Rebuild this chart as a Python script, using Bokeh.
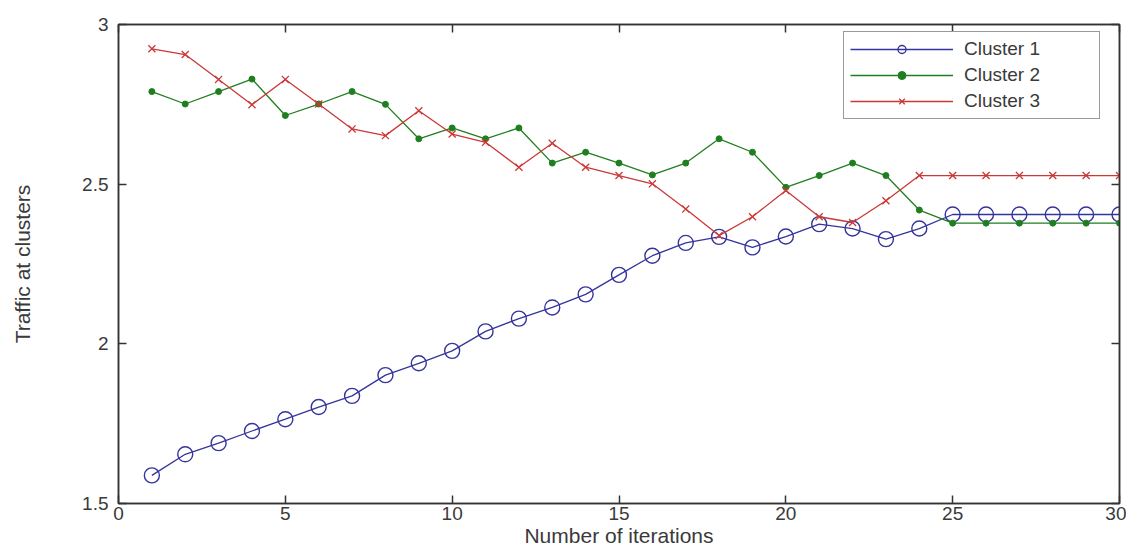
from bokeh.plotting import figure
from bokeh.models import Range1d, LinearAxis, FixedTicker, CustomJSTickFormatter, Legend
from bokeh.embed import file_html
from bokeh.resources import INLINE

iterations = list(range(1, 31))
cluster1 = [1.588, 1.654, 1.689, 1.727, 1.764, 1.802, 1.837, 1.902, 1.939, 1.978,
            2.039, 2.079, 2.114, 2.155, 2.216, 2.276, 2.316, 2.335, 2.302, 2.336,
            2.375, 2.361, 2.328, 2.361, 2.405, 2.405, 2.405, 2.405, 2.405, 2.405]
cluster2 = [2.790, 2.751, 2.790, 2.829, 2.715, 2.751, 2.790, 2.750, 2.642, 2.676,
            2.642, 2.676, 2.566, 2.600, 2.566, 2.529, 2.566, 2.642, 2.600, 2.490,
            2.527, 2.566, 2.527, 2.419, 2.378, 2.378, 2.378, 2.378, 2.378, 2.378]
cluster3 = [2.924, 2.906, 2.828, 2.749, 2.828, 2.751, 2.673, 2.652, 2.730, 2.657,
            2.631, 2.553, 2.628, 2.553, 2.527, 2.501, 2.422, 2.339, 2.398, 2.480,
            2.398, 2.380, 2.448, 2.527, 2.527, 2.527, 2.527, 2.527, 2.527, 2.527]
labels = ["Cluster 1", "Cluster 2", "Cluster 3"]
x_ticks = [0, 5, 10, 15, 20, 25, 30]
y_ticks = [1.5, 2, 2.5, 3]
y_tick_labels = {1.5: "1.5", 2: "2", 2.5: "2.5", 3: "3"}

FONT = "Liberation Sans"
TEXT = "#3a3a3a"
AX = "#333333"
BLUE = "#34349c"
GREEN = "#1f7f1f"
RED = "#cc3838"

p = figure(width=1126, height=549, output_backend="svg", toolbar_location=None,
           x_range=Range1d(0, 30), y_range=Range1d(1.5, 3),
           min_border_left=118, min_border_right=7, min_border_top=24, min_border_bottom=30)
p.background_fill_color = "white"
p.border_fill_color = "white"
p.outline_line_color = AX
p.outline_line_width = 1.5
p.xgrid.visible = False
p.ygrid.visible = False

l1 = p.line(iterations, cluster1, line_color=BLUE, line_width=1.3)
m1 = p.scatter(iterations, cluster1, marker="circle", size=15, fill_color=None,
               line_color=BLUE, line_width=1.4)
l2 = p.line(iterations, cluster2, line_color=GREEN, line_width=1.3)
m2 = p.scatter(iterations, cluster2, marker="circle", size=6, fill_color=GREEN,
               line_color=GREEN)
l3 = p.line(iterations, cluster3, line_color=RED, line_width=1.3)
m3 = p.scatter(iterations, cluster3, marker="x", size=10, line_color=RED, line_width=1.3)

def style_axis(ax):
    ax.axis_line_color = AX
    ax.axis_line_width = 1.5
    ax.major_tick_in = 8
    ax.major_tick_out = 0
    ax.major_tick_line_color = AX
    ax.major_tick_line_width = 1.5
    ax.minor_tick_line_color = None
    ax.major_label_text_font = FONT
    ax.major_label_text_font_size = "19px"
    ax.major_label_text_color = TEXT
    ax.axis_label_text_font = FONT
    ax.axis_label_text_font_style = "normal"
    ax.axis_label_text_color = TEXT

xa = p.xaxis[0]
style_axis(xa)
xa.ticker = FixedTicker(ticks=x_ticks)
xa.major_label_standoff = 3
xa.axis_label = "Number of iterations"
xa.axis_label_text_font_size = "21px"
xa.axis_label_standoff = 1

ya = p.yaxis[0]
style_axis(ya)
ya.ticker = FixedTicker(ticks=y_ticks)
ya.major_label_overrides = y_tick_labels
ya.major_label_standoff = 10
ya.axis_label = "Traffic at clusters"
ya.axis_label_text_font_size = "21px"
ya.axis_label_standoff = 45

empty = CustomJSTickFormatter(code="return ''")
top = LinearAxis(ticker=FixedTicker(ticks=x_ticks), formatter=empty)
style_axis(top)
top.major_label_standoff = 0
top.major_label_text_font_size = "1px"
right = LinearAxis(ticker=FixedTicker(ticks=y_ticks), formatter=empty)
style_axis(right)
right.major_label_standoff = 0
right.major_label_text_font_size = "1px"
p.add_layout(top, "above")
p.add_layout(right, "right")

legend = Legend(items=[(labels[0], [l1, m1]), (labels[1], [l2, m2]), (labels[2], [l3, m3])],
                location=(725, 384))
legend.label_text_font = FONT
legend.label_text_font_size = "19px"
legend.label_text_color = TEXT
legend.border_line_color = AX
legend.border_line_width = 1.5
legend.background_fill_color = "white"
legend.background_fill_alpha = 1.0
legend.padding = 6
legend.spacing = 4
legend.margin = 0
legend.glyph_width = 103
legend.glyph_height = 20
legend.label_height = 20
legend.label_width = 129
legend.label_standoff = 11
p.add_layout(legend, "center")

open("out.html", "w").write(file_html(p, INLINE))
